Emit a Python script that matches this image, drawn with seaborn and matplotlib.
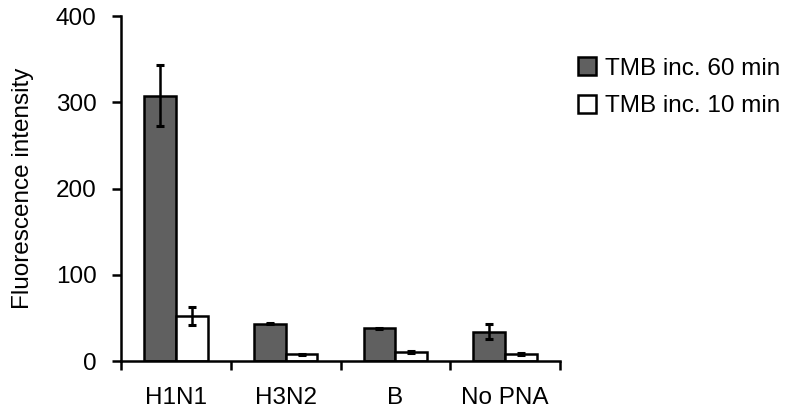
import matplotlib
matplotlib.use("Agg")
import matplotlib.pyplot as plt
import seaborn as sns
import pandas as pd
import numpy as np

categories = ["H1N1", "H3N2", "B", "No PNA"]
series_names = ["TMB inc. 60 min", "TMB inc. 10 min"]
values_60 = [308, 43, 38, 34]
errors_60 = [35, 0.6, 0.8, 9]
values_10 = [52, 7.7, 11, 8]
errors_10 = [10.5, 0.5, 1.2, 1.2]
colors = ["#606060", "#ffffff"]

sns.set_theme(style="white")
plt.rcParams['font.family'] = ['Liberation Sans', 'DejaVu Sans']
plt.rcParams['text.color'] = 'black'
plt.rcParams['axes.labelcolor'] = 'black'
plt.rcParams['xtick.color'] = 'black'
plt.rcParams['ytick.color'] = 'black'

FS = 17.5
LW = 1.8

df = pd.DataFrame({
    "cat": categories * 2,
    "series": [series_names[0]] * 4 + [series_names[1]] * 4,
    "val": values_60 + values_10,
})

fig = plt.figure(figsize=(7.91, 4.15), dpi=100)
ax = fig.add_axes([0.153, 0.13, 0.555, 0.831])

sns.barplot(data=df, x="cat", y="val", hue="series", order=categories,
            hue_order=series_names, palette=colors, width=0.58,
            errorbar=None, edgecolor="black", linewidth=LW, ax=ax,
            saturation=1)

errs = [errors_60, errors_10]
vals = [values_60, values_10]
for cont, e, v in zip(ax.containers, errs, vals):
    xs = [p.get_x() + p.get_width() / 2 for p in cont.patches]
    ax.errorbar(xs, v, yerr=e, fmt="none", ecolor="black", elinewidth=LW,
                capsize=2.8, capthick=2.2, zorder=5)

ax.set_ylim(0, 400)
ax.set_yticks([0, 100, 200, 300, 400])
ax.set_xlim(-0.5, 3.5)
ax.set_xlabel("")
ax.set_ylabel("Fluorescence intensity", fontsize=FS, labelpad=16)
sns.despine(ax=ax)
for s in ["left", "bottom"]:
    ax.spines[s].set_linewidth(LW)
    ax.spines[s].set_color("black")

ax.set_xticks([-0.5, 0.5, 1.5, 2.5, 3.5], minor=True)
ax.tick_params(axis="x", which="minor", length=6.5, width=LW, color="black", direction="out", bottom=True)
ax.tick_params(axis="x", which="major", length=0, labelsize=FS, pad=19, labelcolor="black")
ax.tick_params(axis="y", length=6.5, width=LW, color="black", labelsize=FS, direction="out", left=True, pad=11, labelcolor="black")

leg = ax.legend(loc="upper left", bbox_to_anchor=(0.731, 0.862), bbox_transform=fig.transFigure,
                frameon=False, fontsize=FS, handlelength=0.75, handleheight=0.75,
                handletextpad=0.35, labelspacing=0.62, borderaxespad=0, borderpad=0)
for h in leg.legend_handles:
    h.set_linewidth(LW)

fig.savefig("out.png", dpi=100)
